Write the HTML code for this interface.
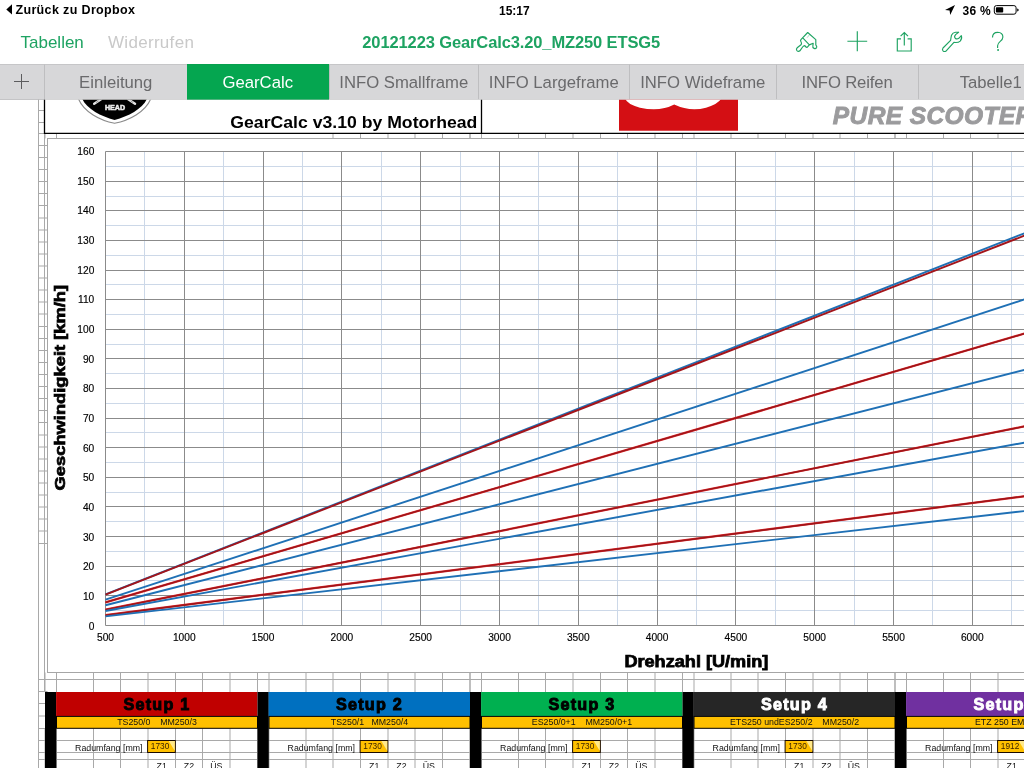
<!DOCTYPE html>
<html><head><meta charset="utf-8"><title>GearCalc</title>
<style>
html,body{margin:0;padding:0;}
body{width:1024px;height:768px;overflow:hidden;background:#fff;position:relative;font-family:"Liberation Sans",sans-serif;color:#000;}
.abs{position:absolute;white-space:nowrap;}
#status{position:absolute;left:0;top:0;width:1024px;height:20px;font-weight:bold;font-size:12.5px;}
#nav{position:absolute;left:0;top:20px;width:1024px;height:44px;}
#tabs{position:absolute;left:0;top:64px;width:1024px;height:35.7px;background:#d7d7d9;box-sizing:border-box;overflow:hidden;}
.tab{position:absolute;top:0;height:35.7px;line-height:35.6px;text-align:center;font-size:16.7px;color:#6a6a6c;box-sizing:border-box;border-left:1px solid #bebec0;border-top:1px solid #c6c6c8;border-bottom:0.7px solid #c4c4c6;}
.tab.on{background:#05a650;color:#fff;border-left:none;border-top:1px solid #07a04e;border-bottom:0.7px solid #069448;}
.t{position:absolute;white-space:nowrap;line-height:1;}
</style></head><body>

<div id="status">
<svg class="abs" style="left:5px;top:4px" width="8" height="12" viewBox="0 0 8 12"><path d="M7 0.2 L1.3 5.4 L7 10.6 Z" fill="#000"/></svg>
<span class="t" style="left:15.4px;top:4px;font-size:12.5px;letter-spacing:0.36px">Zurück zu Dropbox</span>
<span class="t" style="left:499px;top:4.5px;font-size:12px">15:17</span>
<span class="t" style="left:962.5px;top:4.5px;font-size:12px;letter-spacing:0.3px">36 %</span>
<svg class="abs" style="left:944px;top:4px" width="12" height="12" viewBox="0 0 12 12"><path d="M11 1 L1 6 L5.6 6.6 L6.2 11 Z" fill="#000"/></svg>
<svg class="abs" style="left:993px;top:4px" width="28" height="13" viewBox="0 0 28 13"><rect x="1.3" y="1.6" width="21.8" height="8.6" rx="2.2" fill="none" stroke="#000" stroke-width="1"/><rect x="2.9" y="3.2" width="7.3" height="5.4" rx="0.8" fill="#000"/><path d="M24.2 4.4 q1.5 0.3 1.5 1.5 q0 1.2 -1.5 1.5 z" fill="#000"/></svg>
</div>
<div id="nav">
<span class="t" style="left:20.5px;top:14px;font-size:17px;color:#1ea362">Tabellen</span>
<span class="t" style="left:108px;top:14px;font-size:17px;letter-spacing:0.3px;color:#c9c9c9">Widerrufen</span>
<span class="t" style="left:362.3px;top:14px;font-size:16.5px;letter-spacing:-0.12px;font-weight:bold;color:#1ea362">20121223 GearCalc3.20_MZ250 ETSG5</span>
<svg class="abs" style="left:780px;top:0" width="244" height="44" viewBox="780 20 244 44" fill="none" stroke="#1ea362" stroke-width="1.15">
<path d="M847.4 41.2 H867.2 M857.3 31.2 V51.2"/>
<path d="M901 38.8 H897.3 V51 H911.2 V38.8 H907.6 M904.3 45.4 V32.6 M900.6 36.2 L904.3 32.5 L908 36.2"/>
<path stroke-linejoin="round" d="M807.7 32.5 L815.8 39.6 V44.8 Q817.2 46.5 816.6 47.6 Q815.6 49 814.2 48.4 Q812.3 47.4 812.9 45.6 L813.2 43.3 L809.3 44.9 L807.2 47.3 Q806 47.6 804.8 45.6 Q803.6 45.6 802.6 47 L799.9 50.8 Q798.4 52 796.9 50.6 Q795.8 49 797.2 47.8 L801 44.8 Q801.9 43.6 801.2 42.2 Q800 40.8 800.9 39.6 Z M803 38.2 L809.4 44.8"/>
<path d="M809.3 35 L807.1 37.7" stroke-width="0.8" opacity="0.5"/>
<path stroke-linejoin="round" d="M943 48.0 L950.6 40.4 Q951 37.5 951.5 35.2 Q952.6 32.6 955.6 32.3 L958.6 32.2 L955.6 34.6 Q953.8 36.6 955.2 38.2 Q956.8 39.6 958.8 38.3 L961.3 35.7 Q962.4 38.5 960.2 41.1 Q958.2 43 953.9 42.4 L946.2 50.9 Q944.4 52.1 943 50.8 Q941.9 49.4 943 48.0 Z"/>
<path stroke-linecap="butt" d="M992.5 37.4 Q992.6 32.3 997.6 32.3 Q1002.8 32.5 1002.9 37 Q1002.8 39.6 1000 41.6 Q997.6 43.6 997.6 45.8 V47.9"/>
<rect x="997.2" y="49.2" width="1.8" height="1.6" fill="#1ea362" stroke="none"/>
</svg>
</div>
<div id="tabs">
<div class="tab" style="left:0px;width:44px;border-left:none;"></div>
<div class="tab" style="left:44px;width:142.5px;">Einleitung</div>
<div class="tab on" style="left:186.5px;width:142.5px;">GearCalc</div>
<div class="tab" style="left:329px;width:148.5px;">INFO Smallframe</div>
<div class="tab" style="left:477.5px;width:151.5px;">INFO Largeframe</div>
<div class="tab" style="left:629px;width:146.5px;">INFO Wideframe</div>
<div class="tab" style="left:775.5px;width:142.0px;letter-spacing:-0.15px;">INFO Reifen</div>
<div class="tab" style="left:917.5px;width:145.5px;">Tabelle1</div>
<svg class="abs" style="left:13px;top:9px" width="17" height="17" viewBox="0 0 17 17"><path d="M8.5 1 V16 M1 8.5 H16" stroke="#5c5c5e" stroke-width="1"/></svg>
</div>
<svg class="abs" style="left:0;top:99px" width="1024" height="669" viewBox="0 99 1024 669">
<g stroke="#a9a9a9" stroke-width="1" fill="none">
<path d="M38.5 99.7 V768 M44.5 133 V691.5"/>
<path d="M38.5 133.5 H47.5 M38.5 145.5 H47.5 M38.5 157.5 H47.5 M38.5 169.5 H47.5 M38.5 181.5 H47.5 M38.5 193.5 H47.5 M38.5 205.5 H47.5 M38.5 218.0 H47.5 M38.5 230.0 H47.5 M38.5 242.0 H47.5 M38.5 254.0 H47.5 M38.5 266.0 H47.5 M38.5 278.0 H47.5 M38.5 290.0 H47.5 M38.5 302.0 H47.5 M38.5 314.0 H47.5 M38.5 326.5 H47.5 M38.5 338.5 H47.5 M38.5 350.5 H47.5 M38.5 362.5 H47.5 M38.5 374.5 H47.5 M38.5 386.5 H47.5 M38.5 398.5 H47.5 M38.5 410.5 H47.5 M38.5 422.5 H47.5 M38.5 435.0 H47.5 M38.5 447.0 H47.5 M38.5 459.0 H47.5 M38.5 471.0 H47.5 M38.5 483.0 H47.5 M38.5 495.0 H47.5 M38.5 507.0 H47.5 M38.5 519.0 H47.5 M38.5 531.0 H47.5 M38.5 543.5 H47.5 M38.5 679.5 H47.5 M38.5 691.5 H47.5 M38.5 703.5 H47.5 M38.5 716.0 H47.5 M38.5 728.5 H47.5 M38.5 740.5 H47.5 M38.5 752.5 H47.5 M38.5 759.5 H47.5 M38.5 122.5 H44.5 M38.5 110.5 H44.5"/>
<path d="M45.0 133.4 V138.5 M45.0 672.5 V692 M56.5 133.4 V138.5 M56.5 672.5 V692 M93.5 672.5 V692 M120.5 672.5 V692 M148.0 672.5 V692 M175.5 672.5 V692 M202.5 672.5 V692 M230.0 672.5 V692 M257.5 672.5 V692 M257.5 672.5 V692 M269.0 672.5 V692 M306.0 672.5 V692 M333.0 133.4 V138.5 M333.0 672.5 V692 M360.5 133.4 V138.5 M360.5 672.5 V692 M388.0 133.4 V138.5 M388.0 672.5 V692 M415.0 133.4 V138.5 M415.0 672.5 V692 M442.5 133.4 V138.5 M442.5 672.5 V692 M470.0 133.4 V138.5 M470.0 672.5 V692 M470.0 133.4 V138.5 M470.0 672.5 V692 M481.5 133.4 V138.5 M481.5 672.5 V692 M518.5 133.4 V138.5 M518.5 672.5 V692 M545.5 133.4 V138.5 M545.5 672.5 V692 M573.0 133.4 V138.5 M573.0 672.5 V692 M600.5 133.4 V138.5 M600.5 672.5 V692 M627.5 133.4 V138.5 M627.5 672.5 V692 M655.0 133.4 V138.5 M655.0 672.5 V692 M682.5 133.4 V138.5 M682.5 672.5 V692 M682.5 133.4 V138.5 M682.5 672.5 V692 M694.0 133.4 V138.5 M694.0 672.5 V692 M731.0 133.4 V138.5 M731.0 672.5 V692 M758.0 133.4 V138.5 M758.0 672.5 V692 M785.5 133.4 V138.5 M785.5 672.5 V692 M813.0 133.4 V138.5 M813.0 672.5 V692 M840.0 133.4 V138.5 M840.0 672.5 V692 M867.5 133.4 V138.5 M867.5 672.5 V692 M895.0 133.4 V138.5 M895.0 672.5 V692 M895.0 133.4 V138.5 M895.0 672.5 V692 M906.5 133.4 V138.5 M906.5 672.5 V692 M943.5 133.4 V138.5 M943.5 672.5 V692 M970.5 133.4 V138.5 M970.5 672.5 V692 M998.0 133.4 V138.5 M998.0 672.5 V692 M1025.5 133.4 V138.5 M1025.5 672.5 V692 M44.5 679.5 H1024 "/>
<path d="M45.0 728.5 V768 M56.5 728.5 V768 M93.5 728.5 V768 M120.5 728.5 V768 M148.0 728.5 V768 M175.5 728.5 V768 M202.5 728.5 V768 M230.0 728.5 V768 M257.5 728.5 V768 M257.5 728.5 V768 M269.0 728.5 V768 M306.0 728.5 V768 M333.0 728.5 V768 M360.5 728.5 V768 M388.0 728.5 V768 M415.0 728.5 V768 M442.5 728.5 V768 M470.0 728.5 V768 M470.0 728.5 V768 M481.5 728.5 V768 M518.5 728.5 V768 M545.5 728.5 V768 M573.0 728.5 V768 M600.5 728.5 V768 M627.5 728.5 V768 M655.0 728.5 V768 M682.5 728.5 V768 M682.5 728.5 V768 M694.0 728.5 V768 M731.0 728.5 V768 M758.0 728.5 V768 M785.5 728.5 V768 M813.0 728.5 V768 M840.0 728.5 V768 M867.5 728.5 V768 M895.0 728.5 V768 M895.0 728.5 V768 M906.5 728.5 V768 M943.5 728.5 V768 M970.5 728.5 V768 M998.0 728.5 V768 M1025.5 728.5 V768 M44.5 740.5 H1024 M44.5 752.5 H1024 M44.5 759.5 H1024 "/>
</g>
<rect x="47.5" y="138.5" width="1000" height="534" fill="#fff" stroke="#a6a6a6" stroke-width="1"/>
<g fill="none" stroke-width="1">
<path d="M105.5 610.5 H1024 M105.5 580.5 H1024 M105.5 551.5 H1024 M105.5 521.5 H1024 M105.5 492.5 H1024 M105.5 462.5 H1024 M105.5 432.5 H1024 M105.5 403.5 H1024 M105.5 373.5 H1024 M105.5 344.5 H1024 M105.5 314.5 H1024 M105.5 284.5 H1024 M105.5 255.5 H1024 M105.5 225.5 H1024 M105.5 196.5 H1024 M105.5 166.5 H1024 M144.5 151.5 V625.5 M223.5 151.5 V625.5 M302.5 151.5 V625.5 M381.5 151.5 V625.5 M460.5 151.5 V625.5 M538.5 151.5 V625.5 M617.5 151.5 V625.5 M696.5 151.5 V625.5 M775.5 151.5 V625.5 M854.5 151.5 V625.5 M932.5 151.5 V625.5 M1011.5 151.5 V625.5 " stroke="#ccd8e8"/>
<path d="M105.5 625.5 H1024 M105.5 595.5 H1024 M105.5 566.5 H1024 M105.5 536.5 H1024 M105.5 506.5 H1024 M105.5 477.5 H1024 M105.5 447.5 H1024 M105.5 418.5 H1024 M105.5 388.5 H1024 M105.5 358.5 H1024 M105.5 329.5 H1024 M105.5 299.5 H1024 M105.5 270.5 H1024 M105.5 240.5 H1024 M105.5 210.5 H1024 M105.5 181.5 H1024 M105.5 151.5 H1024 M105.5 151.5 V625.5 M184.5 151.5 V625.5 M263.5 151.5 V625.5 M341.5 151.5 V625.5 M420.5 151.5 V625.5 M499.5 151.5 V625.5 M578.5 151.5 V625.5 M657.5 151.5 V625.5 M735.5 151.5 V625.5 M814.5 151.5 V625.5 M893.5 151.5 V625.5 M972.5 151.5 V625.5 " stroke="#8b8b8b"/>
</g>
<g fill="none">
<path d="M105.5 594.43 L1030 231.04" stroke="#1f70b5" stroke-width="1.9"/>
<path d="M105.5 594.62 L1030 233.45" stroke="#a3151b" stroke-width="1.9"/>
<path d="M105.5 599.66 L1030 297.64" stroke="#1f70b5" stroke-width="1.9"/>
<path d="M105.5 602.35 L1030 331.94" stroke="#de262a" stroke-width="2.2"/>
<path d="M105.5 602.35 L1030 331.94" stroke="#9c1519" stroke-width="1.4"/>
<path d="M105.5 605.21 L1030 368.36" stroke="#1f70b5" stroke-width="1.9"/>
<path d="M105.5 609.68 L1030 425.30" stroke="#de262a" stroke-width="2.2"/>
<path d="M105.5 609.68 L1030 425.30" stroke="#9c1519" stroke-width="1.4"/>
<path d="M105.5 610.96 L1030 441.61" stroke="#1f70b5" stroke-width="1.9"/>
<path d="M105.5 615.20 L1030 495.52" stroke="#de262a" stroke-width="2.2"/>
<path d="M105.5 615.20 L1030 495.52" stroke="#9c1519" stroke-width="1.4"/>
<path d="M105.5 616.37 L1030 510.41" stroke="#1f70b5" stroke-width="1.9"/>
</g>
<g font-family="Liberation Sans, sans-serif" font-size="10.2" fill="#000" stroke="#000" stroke-width="0.15">
<text x="94.3" y="629.8" text-anchor="end">0</text>
<text x="94.3" y="600.1" text-anchor="end">10</text>
<text x="94.3" y="570.4" text-anchor="end">20</text>
<text x="94.3" y="540.8" text-anchor="end">30</text>
<text x="94.3" y="511.1" text-anchor="end">40</text>
<text x="94.3" y="481.4" text-anchor="end">50</text>
<text x="94.3" y="451.7" text-anchor="end">60</text>
<text x="94.3" y="422.0" text-anchor="end">70</text>
<text x="94.3" y="392.4" text-anchor="end">80</text>
<text x="94.3" y="362.7" text-anchor="end">90</text>
<text x="94.3" y="333.0" text-anchor="end">100</text>
<text x="94.3" y="303.3" text-anchor="end">110</text>
<text x="94.3" y="273.6" text-anchor="end">120</text>
<text x="94.3" y="244.0" text-anchor="end">130</text>
<text x="94.3" y="214.3" text-anchor="end">140</text>
<text x="94.3" y="184.6" text-anchor="end">150</text>
<text x="94.3" y="154.9" text-anchor="end">160</text>
<text x="105.5" y="641.2" text-anchor="middle">500</text>
<text x="184.3" y="641.2" text-anchor="middle">1000</text>
<text x="263.1" y="641.2" text-anchor="middle">1500</text>
<text x="341.9" y="641.2" text-anchor="middle">2000</text>
<text x="420.7" y="641.2" text-anchor="middle">2500</text>
<text x="499.5" y="641.2" text-anchor="middle">3000</text>
<text x="578.3" y="641.2" text-anchor="middle">3500</text>
<text x="657.1" y="641.2" text-anchor="middle">4000</text>
<text x="735.9" y="641.2" text-anchor="middle">4500</text>
<text x="814.7" y="641.2" text-anchor="middle">5000</text>
<text x="893.5" y="641.2" text-anchor="middle">5500</text>
<text x="972.3" y="641.2" text-anchor="middle">6000</text>
</g>
<text x="624.4" y="667.3" font-family="Liberation Sans, sans-serif" font-weight="bold" font-size="16" stroke="#000" stroke-width="0.75" textLength="144" lengthAdjust="spacingAndGlyphs">Drehzahl [U/min]</text>
<text transform="translate(65.2 490.4) rotate(-90)" font-family="Liberation Sans, sans-serif" font-weight="bold" font-size="15.4" stroke="#000" stroke-width="0.7" textLength="205.5" lengthAdjust="spacingAndGlyphs">Geschwindigkeit [km/h]</text>
<rect x="45" y="99.7" width="980" height="34" fill="#fff"/>
<path d="M44.5 99.7 V133.4 H1024 M481.5 99.7 V133.4" stroke="#000" stroke-width="1.3" fill="none"/>
<text x="230.3" y="127.7" font-family="Liberation Sans, sans-serif" font-weight="bold" font-size="17.4" textLength="247" lengthAdjust="spacingAndGlyphs">GearCalc v3.10 by Motorhead</text>
<clipPath id="hc"><rect x="0" y="99.7" width="1024" height="40"/></clipPath><g clip-path="url(#hc)">
<path d="M78.5 99 C84 112 100 120.5 114.6 123.3 C129.2 120.5 145.2 112 150.7 99 Z" fill="#fff" stroke="#8a8a8a" stroke-width="1.1"/>
<path d="M82.3 99 C87 109 101 116.5 114.6 119.9 C128.2 116.5 142.2 109 146.9 99 Z" fill="#000"/>
<text x="104.9" y="109.8" font-family="Liberation Sans, sans-serif" font-weight="bold" font-size="6.4" fill="#eee" stroke="#eee" stroke-width="0.45" textLength="20.2" lengthAdjust="spacingAndGlyphs">HEAD</text>
<path d="M94.2 103.8 L101 99.3 M135 103.8 L128.2 99.3" stroke="#e4e4e4" stroke-width="2.4" stroke-linecap="round"/>
<path d="M96 102.6 L98.6 100.9 M133.2 102.6 L130.6 100.9" stroke="#777" stroke-width="0.7"/>
<path d="M619 99 H738 V130.8 H619 Z" fill="#d40f14"/>
<path d="M625.4 99 Q627 104 640 107.7 Q660 112 674.2 104.5 Q690 112 706 107.7 Q718 104 721 99 Z" fill="#fff"/>
</g>
<text x="832.8" y="123.6" font-family="Liberation Sans, sans-serif" font-weight="bold" font-style="italic" font-size="24.5" fill="#9b9b9d" stroke="#9b9b9d" stroke-width="0.9" letter-spacing="0.4">PURE SCOOTER</text>
<rect x="45.0" y="692" width="11.3" height="80" fill="#000"/>
<rect x="56.1" y="692" width="201.4" height="24.2" fill="#c00000"/>
<rect x="56.5" y="716.4" width="201.0" height="11.9" fill="#ffc000" stroke="#000" stroke-width="1"/>
<text x="157.0" y="709.8" text-anchor="middle" font-family="Liberation Sans, sans-serif" font-weight="bold" font-size="16.2" fill="#000" stroke="#000" stroke-width="0.9" letter-spacing="1.2">Setup 1</text>
<text x="157.0" y="725" text-anchor="middle" font-family="Liberation Sans, sans-serif" font-size="8.8" fill="#111" xml:space="preserve" style="white-space:pre">TS250/0    MM250/3</text>
<text x="142.5" y="750.8" text-anchor="end" font-family="Liberation Sans, sans-serif" font-size="8.8" fill="#111">Radumfang [mm]</text>
<rect x="147.6" y="740.5" width="27.7" height="12" fill="#ffc000" stroke="#1a0a00" stroke-width="1"/>
<path d="M168.8 741 H174.8 V751 Z" fill="#ffe88a"/>
<text x="160.1" y="748.8" text-anchor="middle" font-family="Liberation Sans, sans-serif" font-size="8.3" fill="#3a2200">1730</text>
<text x="161.7" y="769" text-anchor="middle" font-family="Liberation Sans, sans-serif" font-size="8.8" fill="#111">Z1</text>
<text x="189.0" y="769" text-anchor="middle" font-family="Liberation Sans, sans-serif" font-size="8.8" fill="#111">Z2</text>
<text x="216.3" y="769" text-anchor="middle" font-family="Liberation Sans, sans-serif" font-size="8.8" fill="#111">ÜS</text>
<rect x="257.5" y="692" width="11.3" height="80" fill="#000"/>
<rect x="268.6" y="692" width="201.4" height="24.2" fill="#0070c0"/>
<rect x="269.0" y="716.4" width="201.0" height="11.9" fill="#ffc000" stroke="#000" stroke-width="1"/>
<text x="369.5" y="709.8" text-anchor="middle" font-family="Liberation Sans, sans-serif" font-weight="bold" font-size="16.2" fill="#000" stroke="#000" stroke-width="0.9" letter-spacing="1.2">Setup 2</text>
<text x="369.5" y="725" text-anchor="middle" font-family="Liberation Sans, sans-serif" font-size="8.8" fill="#111" xml:space="preserve" style="white-space:pre">TS250/1   MM250/4</text>
<text x="355.0" y="750.8" text-anchor="end" font-family="Liberation Sans, sans-serif" font-size="8.8" fill="#111">Radumfang [mm]</text>
<rect x="360.1" y="740.5" width="27.7" height="12" fill="#ffc000" stroke="#1a0a00" stroke-width="1"/>
<path d="M381.3 741 H387.3 V751 Z" fill="#ffe88a"/>
<text x="372.6" y="748.8" text-anchor="middle" font-family="Liberation Sans, sans-serif" font-size="8.3" fill="#3a2200">1730</text>
<text x="374.2" y="769" text-anchor="middle" font-family="Liberation Sans, sans-serif" font-size="8.8" fill="#111">Z1</text>
<text x="401.5" y="769" text-anchor="middle" font-family="Liberation Sans, sans-serif" font-size="8.8" fill="#111">Z2</text>
<text x="428.8" y="769" text-anchor="middle" font-family="Liberation Sans, sans-serif" font-size="8.8" fill="#111">ÜS</text>
<rect x="470.0" y="692" width="11.3" height="80" fill="#000"/>
<rect x="481.1" y="692" width="201.4" height="24.2" fill="#00b050"/>
<rect x="481.5" y="716.4" width="201.0" height="11.9" fill="#ffc000" stroke="#000" stroke-width="1"/>
<text x="582.0" y="709.8" text-anchor="middle" font-family="Liberation Sans, sans-serif" font-weight="bold" font-size="16.2" fill="#000" stroke="#000" stroke-width="0.9" letter-spacing="1.2">Setup 3</text>
<text x="582.0" y="725" text-anchor="middle" font-family="Liberation Sans, sans-serif" font-size="8.8" fill="#111" xml:space="preserve" style="white-space:pre">ES250/0+1    MM250/0+1</text>
<text x="567.5" y="750.8" text-anchor="end" font-family="Liberation Sans, sans-serif" font-size="8.8" fill="#111">Radumfang [mm]</text>
<rect x="572.6" y="740.5" width="27.7" height="12" fill="#ffc000" stroke="#1a0a00" stroke-width="1"/>
<path d="M593.8 741 H599.8 V751 Z" fill="#ffe88a"/>
<text x="585.1" y="748.8" text-anchor="middle" font-family="Liberation Sans, sans-serif" font-size="8.3" fill="#3a2200">1730</text>
<text x="586.7" y="769" text-anchor="middle" font-family="Liberation Sans, sans-serif" font-size="8.8" fill="#111">Z1</text>
<text x="614.0" y="769" text-anchor="middle" font-family="Liberation Sans, sans-serif" font-size="8.8" fill="#111">Z2</text>
<text x="641.3" y="769" text-anchor="middle" font-family="Liberation Sans, sans-serif" font-size="8.8" fill="#111">ÜS</text>
<rect x="682.5" y="692" width="11.3" height="80" fill="#000"/>
<rect x="693.6" y="692" width="201.4" height="24.2" fill="#262626"/>
<rect x="694.0" y="716.4" width="201.0" height="11.9" fill="#ffc000" stroke="#000" stroke-width="1"/>
<text x="794.5" y="709.8" text-anchor="middle" font-family="Liberation Sans, sans-serif" font-weight="bold" font-size="16.2" fill="#fff" stroke="#fff" stroke-width="0.9" letter-spacing="1.2">Setup 4</text>
<text x="794.5" y="725" text-anchor="middle" font-family="Liberation Sans, sans-serif" font-size="8.8" fill="#111" xml:space="preserve" style="white-space:pre">ETS250 undES250/2    MM250/2</text>
<text x="780.0" y="750.8" text-anchor="end" font-family="Liberation Sans, sans-serif" font-size="8.8" fill="#111">Radumfang [mm]</text>
<rect x="785.1" y="740.5" width="27.7" height="12" fill="#ffc000" stroke="#1a0a00" stroke-width="1"/>
<path d="M806.3 741 H812.3 V751 Z" fill="#ffe88a"/>
<text x="797.6" y="748.8" text-anchor="middle" font-family="Liberation Sans, sans-serif" font-size="8.3" fill="#3a2200">1730</text>
<text x="799.2" y="769" text-anchor="middle" font-family="Liberation Sans, sans-serif" font-size="8.8" fill="#111">Z1</text>
<text x="826.5" y="769" text-anchor="middle" font-family="Liberation Sans, sans-serif" font-size="8.8" fill="#111">Z2</text>
<text x="853.8" y="769" text-anchor="middle" font-family="Liberation Sans, sans-serif" font-size="8.8" fill="#111">ÜS</text>
<rect x="895.0" y="692" width="11.3" height="80" fill="#000"/>
<rect x="906.1" y="692" width="201.4" height="24.2" fill="#7030a0"/>
<rect x="906.5" y="716.4" width="201.0" height="11.9" fill="#ffc000" stroke="#000" stroke-width="1"/>
<text x="1007.0" y="709.8" text-anchor="middle" font-family="Liberation Sans, sans-serif" font-weight="bold" font-size="16.2" fill="#fff" stroke="#fff" stroke-width="0.9" letter-spacing="1.2">Setup 5</text>
<text x="1007.0" y="725" text-anchor="middle" font-family="Liberation Sans, sans-serif" font-size="8.8" fill="#111" xml:space="preserve" style="white-space:pre">ETZ 250 EM250</text>
<text x="992.5" y="750.8" text-anchor="end" font-family="Liberation Sans, sans-serif" font-size="8.8" fill="#111">Radumfang [mm]</text>
<rect x="997.6" y="740.5" width="27.7" height="12" fill="#ffc000" stroke="#1a0a00" stroke-width="1"/>
<path d="M1018.8 741 H1024.8 V751 Z" fill="#ffe88a"/>
<text x="1010.1" y="748.8" text-anchor="middle" font-family="Liberation Sans, sans-serif" font-size="8.3" fill="#3a2200">1912</text>
<text x="1011.7" y="769" text-anchor="middle" font-family="Liberation Sans, sans-serif" font-size="8.8" fill="#111">Z1</text>
<text x="1039.0" y="769" text-anchor="middle" font-family="Liberation Sans, sans-serif" font-size="8.8" fill="#111">Z2</text>
<text x="1066.3" y="769" text-anchor="middle" font-family="Liberation Sans, sans-serif" font-size="8.8" fill="#111">ÜS</text>
</svg>
</body></html>
